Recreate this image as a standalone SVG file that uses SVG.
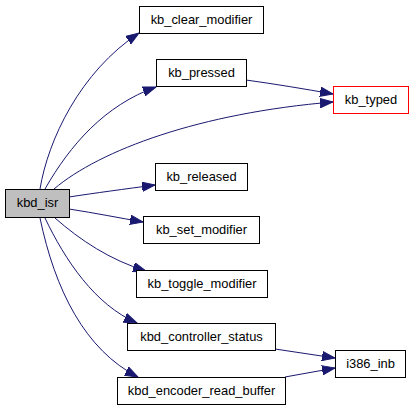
<svg xmlns="http://www.w3.org/2000/svg" width="413" height="411" viewBox="0 0 413 411">
<defs>
<style>
.node rect{fill:#ffffff;stroke:#000000;stroke-width:1}
.node text{font-family:"Liberation Sans",Arial,sans-serif;font-size:12.9px;fill:#000000;text-anchor:middle}
#n_kbd_isr rect{fill:#bfbfbf}
#n_kb_typed rect{stroke:#ff0000}
.edges path{fill:none;stroke:#191970;stroke-width:1;marker-end:url(#arr)}
</style>
<marker id="arr" markerUnits="userSpaceOnUse" markerWidth="14" markerHeight="10" refX="13" refY="5" orient="auto">
<polygon points="0,0.3 13,5 0,9.7" fill="#191970" stroke="#191970" stroke-width="1"/>
</marker>
</defs>
<rect width="413" height="411" fill="#ffffff"/>
<g class="edges">
<path d="M40,189 C48,140 80,72 139,33"/>
<path d="M45,189 C70,145 105,105 156,87"/>
<path d="M54,189 C100,150 200,113 333,102"/>
<path d="M69,197 C95,193 125,189 155,185"/>
<path d="M69,209 C95,213 120,218 143,222"/>
<path d="M55,218 C80,240 110,260 146,271"/>
<path d="M45,218 C65,260 95,305 137,323"/>
<path d="M40,218 C55,290 85,350 138,377"/>
<path d="M246,80 C275,84 305,89 333,94"/>
<path d="M275,349 C295,352 315,355 335,358"/>
<path d="M285,377 C302,374 318,371 335,368"/>
</g>
<g class="node" id="n_kbd_isr"><rect x="5.5" y="189.5" width="64" height="28"/><text x="37.5" y="207">kbd_isr</text></g>
<g class="node" id="n_kb_clear_modifier"><rect x="139.5" y="6.5" width="124" height="27"/><text x="201.5" y="23.5">kb_clear_modifier</text></g>
<g class="node" id="n_kb_pressed"><rect x="156.5" y="59.5" width="90" height="27"/><text x="201.5" y="76.5">kb_pressed</text></g>
<g class="node" id="n_kb_typed"><rect x="333.5" y="86.5" width="75" height="27"/><text x="371" y="103.5">kb_typed</text></g>
<g class="node" id="n_kb_released"><rect x="155.5" y="163.5" width="92" height="27"/><text x="201.5" y="180.5">kb_released</text></g>
<g class="node" id="n_kb_set_modifier"><rect x="143.5" y="216.5" width="116" height="27"/><text x="201.5" y="233.5">kb_set_modifier</text></g>
<g class="node" id="n_kb_toggle_modifier"><rect x="136.5" y="270.5" width="131" height="27"/><text x="202" y="287.5">kb_toggle_modifier</text></g>
<g class="node" id="n_kbd_controller_status"><rect x="127.5" y="323.5" width="148" height="27"/><text x="201.5" y="340.5">kbd_controller_status</text></g>
<g class="node" id="n_kbd_encoder_read_buffer"><rect x="117.5" y="377.5" width="168" height="27"/><text x="201.5" y="394.5">kbd_encoder_read_buffer</text></g>
<g class="node" id="n_i386_inb"><rect x="335.5" y="350.5" width="70" height="27"/><text x="370.5" y="367.5">i386_inb</text></g>
</svg>
